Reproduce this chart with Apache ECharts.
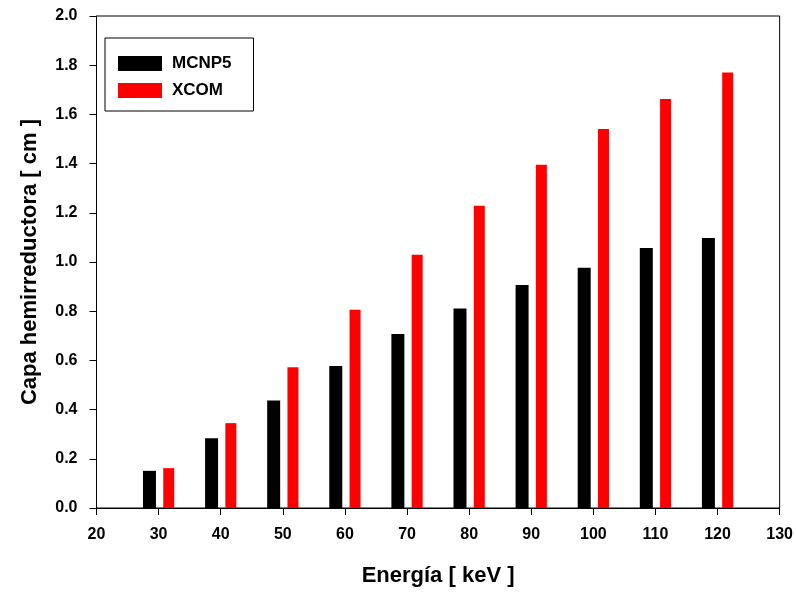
<!DOCTYPE html>
<html>
<head>
<meta charset="utf-8">
<script src="https://cdn.jsdelivr.net/npm/echarts@6/dist/echarts.min.js"></script>
<style>
  html, body { margin: 0; padding: 0; background: #fff; }
  #main { width: 796px; height: 592px; }
</style>
</head>
<body>
<div id="main"></div>
<script>
// datos
var energias = [30, 40, 50, 60, 70, 80, 90, 100, 110, 120];
var mcnp5 = [0.151, 0.284, 0.437, 0.577, 0.707, 0.811, 0.907, 0.977, 1.057, 1.098];
var xcom = [0.162, 0.345, 0.572, 0.806, 1.029, 1.229, 1.395, 1.541, 1.663, 1.770];
var xTicks = [20, 30, 40, 50, 60, 70, 80, 90, 100, 110, 120, 130];

function pares(vals) {
    return energias.map(function (e, i) { return [e, vals[i]]; });
}

var fuente = 'Liberation Sans, Arial, sans-serif';
var myChart = echarts.init(document.getElementById('main'));

var option = {
    animation: false,
    backgroundColor: '#fff',
    grid: {
        left: 96.5, right: 15, top: 16, bottom: 83,
        show: true, borderColor: '#000', borderWidth: 1,
        containLabel: false
    },
    legend: {
        left: 105, top: 38,
        orient: 'vertical',
        itemWidth: 44, itemHeight: 15, itemGap: 10,
        padding: [17, 22, 12, 13],
        borderColor: '#000', borderWidth: 1,
        icon: 'rect',
        textStyle: { fontFamily: fuente, fontWeight: 'bold', fontSize: 17, color: '#000', padding: [0, 0, 0, 5] },
        data: ['MCNP5', 'XCOM']
    },
    xAxis: {
        type: 'value',
        min: xTicks[0], max: xTicks[xTicks.length - 1], interval: 10,
        name: 'Energía [ keV ]',
        nameLocation: 'middle', nameGap: 57,
        nameTextStyle: { fontFamily: fuente, fontWeight: 'bold', fontSize: 22, color: '#000' },
        axisLine: { lineStyle: { color: '#000', width: 1 } },
        axisTick: { inside: false, length: 7, lineStyle: { color: '#000' } },
        axisLabel: { margin: 19, fontFamily: fuente, fontWeight: 'bold', fontSize: 16, color: '#000' },
        splitLine: { show: false }
    },
    yAxis: {
        type: 'value',
        min: 0, max: 2.0, interval: 0.2,
        name: 'Capa hemirreductora [ cm ]',
        nameLocation: 'middle', nameGap: 56,
        nameTextStyle: { fontFamily: fuente, fontWeight: 'bold', fontSize: 22, color: '#000' },
        axisLine: { lineStyle: { color: '#000', width: 1 } },
        axisTick: { inside: false, length: 7, lineStyle: { color: '#000' } },
        axisLabel: {
            margin: 19, fontFamily: fuente, fontWeight: 'bold', fontSize: 16, color: '#000',
            formatter: function (v) { return v.toFixed(1); }
        },
        splitLine: { show: false }
    },
    series: [
        {
            name: 'MCNP5', type: 'bar',
            barWidth: 13, barGap: '56%',
            itemStyle: { color: '#000' },
            data: pares(mcnp5)
        },
        {
            name: 'XCOM', type: 'bar',
            barWidth: 11,
            itemStyle: { color: '#ff0000' },
            data: pares(xcom)
        }
    ]
};
myChart.setOption(option);
</script>
</body>
</html>
